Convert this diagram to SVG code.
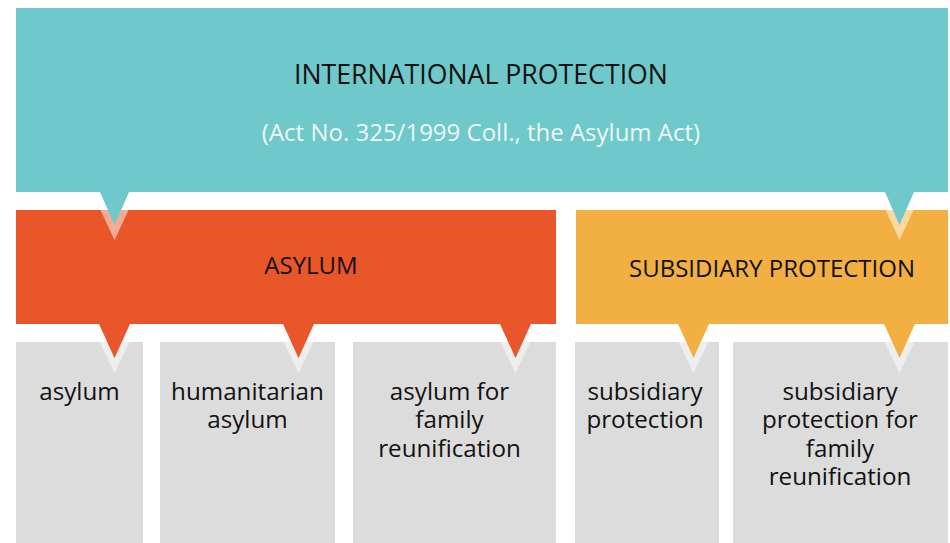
<svg xmlns="http://www.w3.org/2000/svg" width="950" height="543" viewBox="0 0 950 543">
<style>
text{font-family:"Open Sans","Noto Sans","Liberation Sans",sans-serif;fill:#111;text-anchor:middle}
.t{font-size:26.7px}
.sub{font-size:24px;fill:#eef7f7}
.h{font-size:24px}
.g{font-size:24.2px}
.halo{fill:#fff;fill-opacity:0.5}
</style>
<rect width="950" height="543" fill="#fff"/>
<g id="international">
<rect x="16" y="8" width="932" height="184" fill="#6fc9ca"/>
<text class="t" x="481" y="84">INTERNATIONAL PROTECTION</text>
<text class="sub" x="481" y="141">(Act No. 325/1999 Coll., the Asylum Act)</text>
</g>
<g id="asylum-main">
<rect x="16" y="210" width="540" height="114" fill="#e8562a"/>
<text class="h" x="311" y="274">ASYLUM</text>
</g>
<g id="subsidiary-main">
<rect x="576" y="210" width="372" height="114" fill="#f2af42"/>
<text class="h" x="772" y="277">SUBSIDIARY PROTECTION</text>
</g>
<g id="asylum">
<rect x="16" y="342" width="127" height="201" fill="#dcdcdc"/>
<text class="g" x="79.5" y="400">asylum</text>
</g>
<g id="humanitarian">
<rect x="160" y="342" width="175" height="201" fill="#dcdcdc"/>
<text class="g" x="247.5" y="400">humanitarian<tspan x="247.5" dy="28.3">asylum</tspan></text>
</g>
<g id="asylum-family">
<rect x="353" y="342" width="203" height="201" fill="#dcdcdc"/>
<text class="g" x="449.5" y="400">asylum for<tspan x="449.5" dy="28.3">family</tspan><tspan x="449.5" dy="28.3">reunification</tspan></text>
</g>
<g id="subsidiary">
<rect x="575" y="342" width="144" height="201" fill="#dcdcdc"/>
<text class="g" x="645" y="400">subsidiary<tspan x="645" dy="28.3">protection</tspan></text>
</g>
<g id="subsidiary-family">
<rect x="733" y="342" width="215" height="201" fill="#dcdcdc"/>
<text class="g" x="840" y="400">subsidiary<tspan x="840" dy="28.3">protection for</tspan><tspan x="840" dy="28.3">family</tspan><tspan x="840" dy="28.3">reunification</tspan></text>
</g>
<g id="connectors">
<polygon class="halo" points="92,192 137,192 114.5,240"/>
<polygon fill="#6fc9ca" points="100,192 129,192 114.5,225"/>
<polygon class="halo" points="877,192 922,192 899.5,240"/>
<polygon fill="#6fc9ca" points="885,192 914,192 899.5,225"/>
<polygon class="halo" points="91,324 138,324 114.5,373"/>
<polygon fill="#e8562a" points="99,324 130,324 114.5,358"/>
<polygon class="halo" points="275,324 322,324 298.5,373"/>
<polygon fill="#e8562a" points="283,324 314,324 298.5,358"/>
<polygon class="halo" points="492,324 539,324 515.5,373"/>
<polygon fill="#e8562a" points="500,324 531,324 515.5,358"/>
<polygon class="halo" points="670,324 717,324 693.5,373"/>
<polygon fill="#f2af42" points="678,324 709,324 693.5,358"/>
<polygon class="halo" points="876,324 923,324 899.5,373"/>
<polygon fill="#f2af42" points="884,324 915,324 899.5,358"/>
</g>
</svg>
